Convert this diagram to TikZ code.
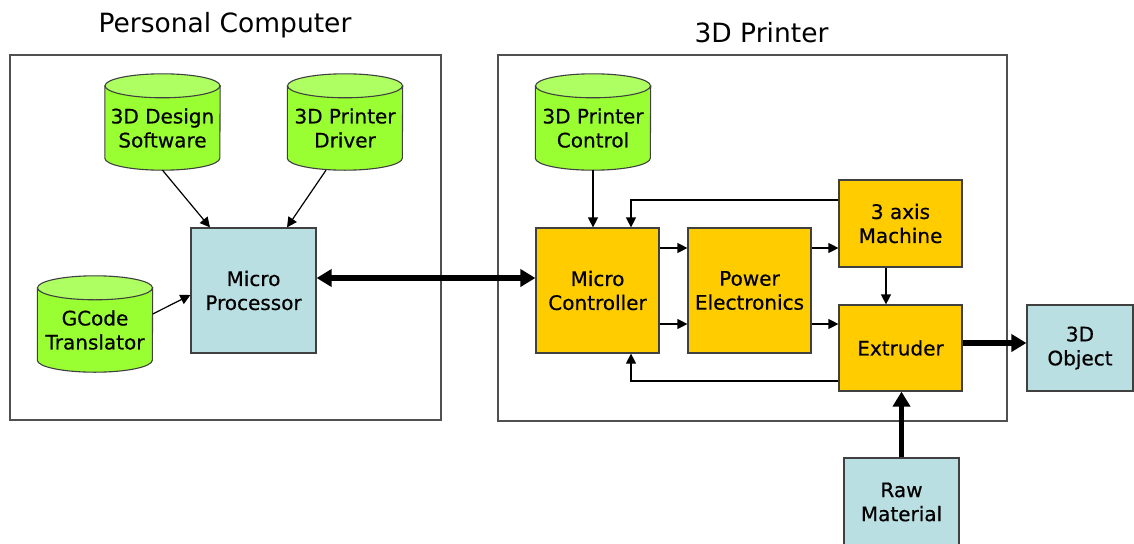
\documentclass[tikz,border=0pt]{standalone}
\usepackage{fontspec}
\setmainfont{DejaVu Sans}
\newfontfamily\boxfont{DejaVu Sans}[FakeBold=0.5]
\usetikzlibrary{arrows.meta}
\definecolor{cylgreen}{HTML}{99FF33}
\definecolor{cyltop}{HTML}{ADFF62}
\definecolor{paleblue}{HTML}{B9DFE2}
\definecolor{amber}{HTML}{FFCC00}
\definecolor{edge}{HTML}{404040}
\definecolor{framegray}{HTML}{505050}

% data store drawn as an upright cylinder: name, centre x, centre y, label
\newcommand\datacyl[4]{%
  \node[minimum width=115pt, minimum height=96pt, inner sep=0pt] (#1) at (#2,#3) {};
  \draw[cylline, fill=cylgreen] ([yshift=-12pt]#1.north west) -- ([yshift=12pt]#1.south west)
    arc[start angle=180, end angle=360, x radius=57.5pt, y radius=12pt]
    -- ([yshift=-12pt]#1.north east) -- cycle;
  \draw[cylline, fill=cyltop] ([yshift=-12pt]#1.north) ellipse[x radius=57.5pt, y radius=12pt];
  \node[lbl] (#1-label) at ([yshift=-6pt]#1.center) {#4};
}

\begin{document}
\begin{tikzpicture}[x=1pt, y=-1pt,
  lbl/.style={font=\boxfont\fontsize{20}{24}\selectfont, align=center, text=black},
  cylline/.style={draw=edge, line width=1.1pt},
  blk/.style={lbl, draw=edge, line width=1.2pt, inner sep=0pt},
  pcbox/.style={blk, fill=paleblue},
  hwbox/.style={blk, fill=amber},
  frame/.style={draw=framegray, line width=1.2pt, inner sep=0pt},
  title/.style={font=\fontsize{26.5}{30}\selectfont, anchor=base},
  thin/.style={line width=1.2pt, -{Triangle[length=10pt, width=10pt]}},
  thick/.style={line width=5.5pt, -{Triangle[length=15pt, width=17pt]}},
  both/.style={line width=5.5pt, {Triangle[length=15pt, width=17pt]}-{Triangle[length=15pt, width=17pt]}},
]
\useasboundingbox (0,0) rectangle (1134,543);
\clip (0,0) rectangle (1134,543);

% enclosing frames and their titles
\node[frame, minimum width=431pt, minimum height=365pt] (pc) at (225.5,237.5) {};
\node[frame, minimum width=509pt, minimum height=366pt] (printer) at (752.5,238) {};
\node[title] (pc-title) at (225,33) {Personal Computer};
\node[title] (printer-title) at (761.5,43) {3D Printer};

% software on the computer
\datacyl{ds}{162.5}{122}{3D Design\\Software}
\datacyl{dr}{345}{122}{3D Printer\\Driver}
\datacyl{gc}{95}{324}{GCode\\Translator}
\node[pcbox, minimum width=125pt, minimum height=125pt] (mp) at (253.5,290.5) {Micro\\Processor};

% printer internals
\datacyl{ctl}{593}{122}{3D Printer\\Control}
\node[hwbox, minimum width=123pt, minimum height=125pt] (mc) at (597.5,290.5) {Micro\\Controller};
\node[hwbox, minimum width=123pt, minimum height=125pt] (pe) at (749.5,290.5) {Power\\Electronics};
\node[hwbox, minimum width=123pt, minimum height=87pt] (ax) at (900.5,223.5) {3 axis\\Machine};
\node[hwbox, minimum width=123pt, minimum height=86pt] (ex) at (900.5,348) {Extruder};

% outside the printer
\node[pcbox, minimum width=106pt, minimum height=86pt] (obj) at (1080,348) {3D\\Object};
\node[pcbox, minimum width=115pt, minimum height=88pt] (raw) at (901.5,502) {Raw\\Material};

% computer-side connectors
\draw[thin] (ds.south) -- (210,0 |- mp.north);
\draw[thin] (326,0 |- dr.south) -- (287,0 |- mp.north);
\draw[thin] (gc.east |- 0,314) -- (mp.west |- 0,295);
\draw[both] (mp.east |- 0,278) -- (mc.west |- 0,278);

% printer-side connectors
\draw[thin] (ctl.south) -- (ctl.south |- mc.north);
\draw[thin] (ax.west |- 0,200) -| (631,0 |- mc.north);
\draw[thin] (ex.west |- 0,381) -| (631,0 |- mc.south);
\draw[thin] (mc.east |- 0,248) -- (pe.west |- 0,248);
\draw[thin] (mc.east |- 0,324) -- (pe.west |- 0,324);
\draw[thin] (pe.east |- 0,248) -- (ax.west |- 0,248);
\draw[thin] (pe.east |- 0,324) -- (ex.west |- 0,324);
\draw[thin] (886,0 |- ax.south) -- (886,0 |- ex.north);
\draw[thick] (ex.east |- 0,343) -- (obj.west |- 0,343);
\draw[thick] (raw.north) -- (raw.north |- ex.south);
\end{tikzpicture}
\end{document}
